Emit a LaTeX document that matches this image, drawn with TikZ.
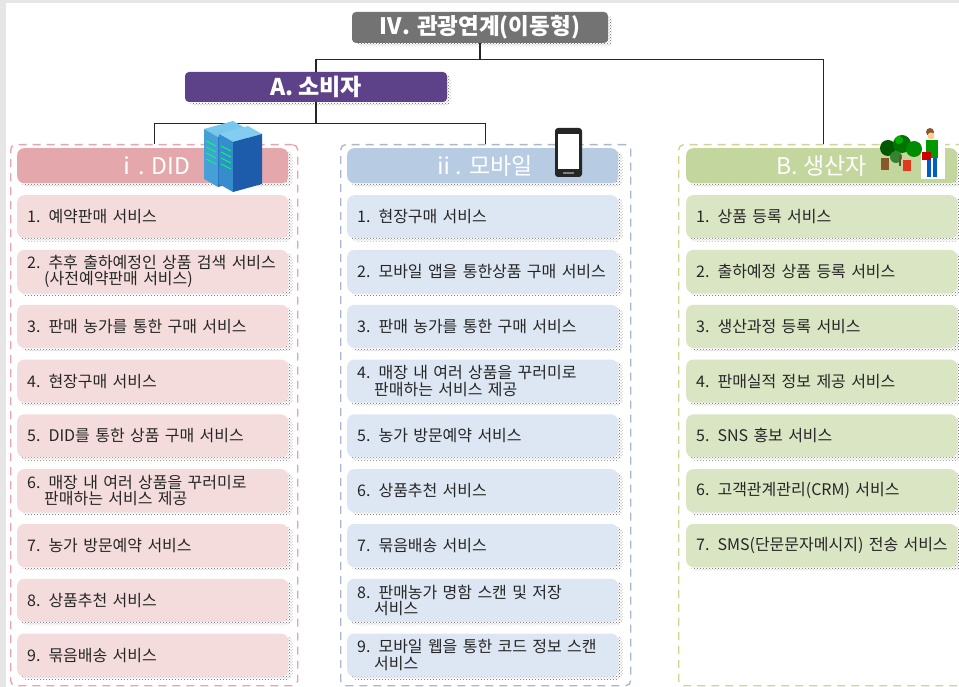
\documentclass[tikz,border=0pt]{standalone}
\usepackage{fontspec}
\setmainfont{Noto Sans CJK KR}
\usetikzlibrary{patterns,backgrounds}

\definecolor{framegray}{HTML}{E6E6E6}
\definecolor{titlegray}{HTML}{737373}
\definecolor{apurple}{HTML}{5D4189}
\definecolor{didhead}{HTML}{E4A8AC}
\definecolor{diditem}{HTML}{F5DCDC}
\definecolor{didline}{HTML}{E9A3AC}
\definecolor{mobhead}{HTML}{B7CBE3}
\definecolor{mobitem}{HTML}{DDE7F3}
\definecolor{mobline}{HTML}{A9B8CC}
\definecolor{prohead}{HTML}{C3D69E}
\definecolor{proitem}{HTML}{DAE5C3}
\definecolor{proline}{HTML}{CBD690}

\pgfdeclarelayer{canvas}
\pgfsetlayers{canvas,background,main}

\tikzset{
  panel/.style={draw, dash pattern=on 8pt off 6pt, line width=1.4pt,
    rounded corners=5pt, inner sep=0pt, anchor=north west},
  hdr/.style={rounded corners=7pt, minimum width=271pt, minimum height=35pt,
    inner sep=0pt, text=white, font=\fontsize{23}{25}\selectfont, anchor=north west},
  svc/.style={rounded corners=7pt, inner xsep=10pt, inner ysep=0pt,
    text width=251pt, minimum height=43pt, align=left,
    font=\fontsize{16}{16.5}\selectfont, text=black!85, anchor=north west},
  topbox/.style={rounded corners=4pt, inner sep=0pt, text=white,
    font=\bfseries\fontsize{22.5}{24}\selectfont},
  conn/.style={line width=1.1pt, black!85},
  dotshade/.style={pattern=crosshatch dots, pattern color=black!60, rounded corners=6pt},
}

% one service box of a column
\newcommand\svcitem[5]{%
  \node[svc, fill=#4] (#1) at (#2,{195+54.8*(#3-1)}) {#5};}
% dotted drop shadow behind a named node
\newcommand\dotshadow[1]{%
  \fill[dotshade] ([shift={(4pt,-3pt)}]#1.north west) rectangle ([shift={(4pt,-3pt)}]#1.south east);}

\begin{document}
\begin{tikzpicture}[x=1pt,y=-1pt]
\useasboundingbox (0,0) rectangle (959,687);
\begin{pgfonlayer}{canvas}
\fill[framegray] (0,0) rectangle (959,687);
\fill[white] (6,3) rectangle (959,687);
\end{pgfonlayer}

% top of the tree
\node[topbox, fill=titlegray, minimum width=256pt, minimum height=31pt] (T) at (480,27.5) {Ⅳ. 관광연계(이동형)};
\node[topbox, fill=apurple, minimum width=262pt, minimum height=30pt, font=\bfseries\fontsize{23}{25}\selectfont] (A) at (316,87) {A. 소비자};

% column frames
\begin{scope}
\clip (0,0) rectangle (959,687);
\node[panel, draw=didline, minimum width=287pt, minimum height=541pt] (P1) at (10,144) {};
\node[panel, draw=mobline, minimum width=290pt, minimum height=541pt] (P2) at (340,144) {};
\node[panel, draw=proline, minimum width=290pt, minimum height=541pt] (P3) at (678,144) {};
\end{scope}

% connectors
\draw[conn] (T.south) -- ++(0,16) -| (A.north);
\draw[conn] (T.south) -- ++(0,16) -| (P3.north);
\draw[conn] (A.south) -- ++(0,21) -| (P1.north);
\draw[conn] (A.south) -- ++(0,21) -| (P2.north);

% column headers
\node[hdr, fill=didhead] (H1) at (17,148) {ⅰ. DID};
\node[hdr, fill=mobhead] (H2) at (347,148) {ⅱ. 모바일};
\node[hdr, fill=prohead] (H3) at (686,148) {B. 생산자};

% DID services
\svcitem{d1}{17}{1}{diditem}{1. 예약판매 서비스}
\svcitem{d2}{17}{2}{diditem}{2. 추후 출하예정인 상품 검색 서비스\\\hspace*{17pt}(사전예약판매 서비스)}
\svcitem{d3}{17}{3}{diditem}{3. 판매 농가를 통한 구매 서비스}
\svcitem{d4}{17}{4}{diditem}{4. 현장구매 서비스}
\svcitem{d5}{17}{5}{diditem}{5. DID를 통한 상품 구매 서비스}
\svcitem{d6}{17}{6}{diditem}{6. 매장 내 여러 상품을 꾸러미로\\\hspace*{17pt}판매하는 서비스 제공}
\svcitem{d7}{17}{7}{diditem}{7. 농가 방문예약 서비스}
\svcitem{d8}{17}{8}{diditem}{8. 상품추천 서비스}
\svcitem{d9}{17}{9}{diditem}{9. 묶음배송 서비스}

% mobile services
\svcitem{m1}{347}{1}{mobitem}{1. 현장구매 서비스}
\svcitem{m2}{347}{2}{mobitem}{2. 모바일 앱을 통한상품 구매 서비스}
\svcitem{m3}{347}{3}{mobitem}{3. 판매 농가를 통한 구매 서비스}
\svcitem{m4}{347}{4}{mobitem}{4. 매장 내 여러 상품을 꾸러미로\\\hspace*{17pt}판매하는 서비스 제공}
\svcitem{m5}{347}{5}{mobitem}{5. 농가 방문예약 서비스}
\svcitem{m6}{347}{6}{mobitem}{6. 상품추천 서비스}
\svcitem{m7}{347}{7}{mobitem}{7. 묶음배송 서비스}
\svcitem{m8}{347}{8}{mobitem}{8. 판매농가 명함 스캔 및 저장\\\hspace*{17pt}서비스}
\svcitem{m9}{347}{9}{mobitem}{9. 모바일 웹을 통한 코드 정보 스캔\\\hspace*{17pt}서비스}

% producer services
\svcitem{p1}{686}{1}{proitem}{1. 상품 등록 서비스}
\svcitem{p2}{686}{2}{proitem}{2. 출하예정 상품 등록 서비스}
\svcitem{p3}{686}{3}{proitem}{3. 생산과정 등록 서비스}
\svcitem{p4}{686}{4}{proitem}{4. 판매실적 정보 제공 서비스}
\svcitem{p5}{686}{5}{proitem}{5. SNS 홍보 서비스}
\svcitem{p6}{686}{6}{proitem}{6. 고객관계관리(CRM) 서비스}
\svcitem{p7}{686}{7}{proitem}{\mbox{7. SMS(단문문자메시지) 전송 서비스}}

% dotted shadows under every box
\begin{pgfonlayer}{background}
\clip (0,0) rectangle (959,687);
\foreach \n in {T,A,H1,H2,H3,d1,d2,d3,d4,d5,d6,d7,d8,d9,m1,m2,m3,m4,m5,m6,m7,m8,m9,p1,p2,p3,p4,p5,p6,p7}
  {\dotshadow{\n}}
\end{pgfonlayer}

% server towers on the DID header
\begin{scope}[shift={(-15,-5)}]
  \fill[fill={rgb,255:red,120;green,200;blue,238}] (219,134) -- (248,126) -- (262,134) -- (233,142) -- cycle;
  \fill[fill={rgb,255:red,70;green,160;blue,215}] (219,134) -- (233,142) -- (233,192) -- (219,184) -- cycle;
  \fill[fill={rgb,255:red,40;green,120;blue,190}] (233,142) -- (262,134) -- (262,184) -- (233,192) -- cycle;
\end{scope}
\fill[fill={rgb,255:red,130;green,205;blue,240}] (219,134) -- (248,126) -- (262,134) -- (233,142) -- cycle;
\fill[fill={rgb,255:red,55;green,140;blue,205}] (219,134) -- (233,142) -- (233,192) -- (219,184) -- cycle;
\fill[fill={rgb,255:red,28;green,92;blue,170}] (233,142) -- (262,134) -- (262,184) -- (233,192) -- cycle;
\foreach \k in {0,1,2,3} {
  \draw[line width=1pt, green!60!cyan] (221,{146+6*\k}) -- (231,{151+6*\k});
  \draw[line width=1pt, green!60!cyan] (206,{141+6*\k}) -- (216,{146+6*\k});
}

% phone on the mobile header
\fill[black!85, rounded corners=3pt] (555,128) rectangle (582,177);
\fill[white] (558,134) rectangle (579,169);
\fill[black!50] (563,172) rectangle (574,174);

% trees and farmer on the producer header
\fill[white] (921,130) rectangle (945,179);
\fill[brown!70!black] (881,158) rectangle (889,170);
\fill[red!55!brown] (903,160) rectangle (911,171);
\fill[green!35!black] (888,148) circle (8);
\fill[green!45!black] (902,144) circle (9);
\fill[green!55!black] (914,149) circle (8);
\fill[green!40!black!80] (896,157) circle (6);
\fill[green!70!black] (899,140) circle (4);
\fill[brown!60!black] (899,155) rectangle (901,166);
\fill[brown!70!black] (930,132) circle (4);
\fill[orange!40!white] (931,136) circle (3.5);
\fill[green!60!black] (926,140) rectangle (938,158);
\fill[blue!55!cyan!80!black] (927,158) rectangle (931,177);
\fill[blue!55!cyan!80!black] (933,158) rectangle (937,177);
\fill[red!80!black] (922,152) rectangle (931,160);
\end{tikzpicture}
\end{document}
